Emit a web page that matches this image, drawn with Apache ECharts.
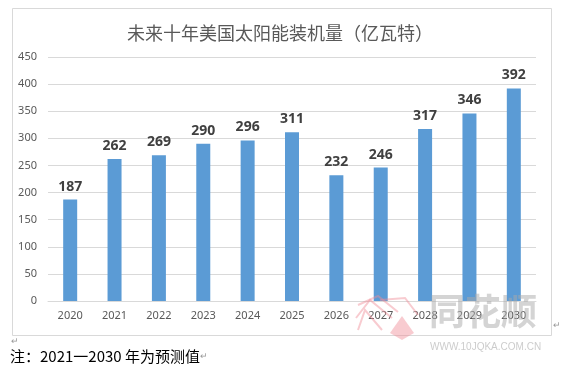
<!DOCTYPE html>
<html><head><meta charset="utf-8">
<script src="https://cdn.jsdelivr.net/npm/echarts@6/dist/echarts.min.js"></script>
<style>html,body{margin:0;padding:0;background:#fff;}#c{width:569px;height:373px;}</style>
</head><body><div id="c"></div>
<script>
const categories = ['2020','2021','2022','2023','2024','2025','2026','2027','2028','2029','2030'];
const values = [187,262,269,290,296,311,232,246,317,346,392];
const yTicks = {min:0, max:450, interval:50};
const titleText = '未来十年美国太阳能装机量（亿瓦特）';
const noteText = '注：2021一2030 年为预测值';

const chart = echarts.init(document.getElementById('c'));
const pink = 'rgba(240,140,150,0.45)';
chart.setOption({
  animation:false,
  backgroundColor:'#fff',
  title:{text:titleText,left:275,top:19,textAlign:'center',
    textStyle:{fontFamily:'Noto Sans CJK SC',fontSize:18,fontWeight:'normal',color:'#595959'}},
  grid:{left:48,right:33,top:57,bottom:72,containLabel:false},
  xAxis:{type:'category',data:categories,
    axisLine:{lineStyle:{color:'#D9D9D9'}},axisTick:{show:false},
    axisLabel:{color:'#595959',fontSize:11,fontFamily:'Noto Sans',margin:9}},
  yAxis:{type:'value',min:yTicks.min,max:yTicks.max,interval:yTicks.interval,
    axisLine:{show:false},axisTick:{show:false},
    splitLine:{lineStyle:{color:'#D9D9D9'}},
    axisLabel:{color:'#595959',fontSize:11,fontFamily:'Noto Sans',margin:11}},
  series:[{type:'bar',data:values,barWidth:14,
    itemStyle:{color:'#5B9BD5'},
    label:{show:true,position:'top',distance:6,color:'#404040',fontSize:14,fontWeight:'bold',fontFamily:'Noto Sans'}}],
  graphic:[
    {type:'rect',shape:{x:12.5,y:8.5,width:539,height:327},style:{fill:null,stroke:'#D9D9D9',lineWidth:1},silent:true,z:-1},
    {type:'text',left:10,top:349,style:{text:noteText,fontFamily:'Noto Sans CJK SC',fontSize:15,fill:'#000'}},
    {type:'text',left:11,top:337,style:{text:'↵',fontSize:9,fill:'#999'}},
    {type:'text',left:553,top:321,style:{text:'↵',fontSize:9,fill:'#999'}},
    {type:'text',left:200,top:352,style:{text:'↵',fontSize:9,fill:'#999'}},
    {type:'polyline',shape:{points:[[358,305],[378,296],[398,312]]},style:{stroke:pink,lineWidth:2,fill:null},z:10},
    {type:'polyline',shape:{points:[[356,318],[370,300],[392,318]]},style:{stroke:pink,lineWidth:2,fill:null},z:10},
    {type:'polyline',shape:{points:[[358,330],[365,310],[382,330]]},style:{stroke:pink,lineWidth:2,fill:null},z:10},
    {type:'polyline',shape:{points:[[380,300],[405,298],[418,315]]},style:{stroke:pink,lineWidth:2,fill:null},z:10},
    {type:'polygon',shape:{points:[[390,333],[402,316],[414,333],[402,340]]},style:{fill:pink},z:10},
    {type:'text',left:429,top:293,style:{text:'同花顺',fontFamily:'Noto Sans CJK SC',fontSize:36,fontWeight:'bold',fill:'rgba(170,170,170,0.5)'},z:10},
    {type:'text',left:430,top:342,style:{text:'WWW.10JQKA.COM.CN',fontFamily:'Liberation Sans',fontSize:10,fill:'rgba(170,170,170,0.6)'},z:10}
  ]
});
</script></body></html>
